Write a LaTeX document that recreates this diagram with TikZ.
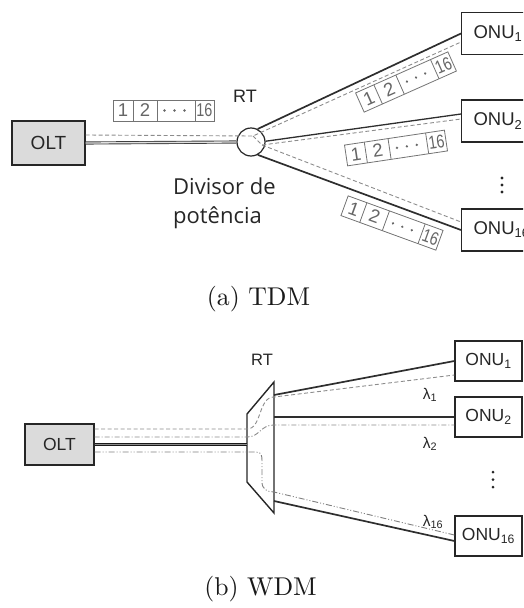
\documentclass[tikz,border=0pt]{standalone}
\usepackage{fontspec}
\newfontfamily\labelfont{Liberation Sans}
\newfontfamily\notefont{Open Sans}
\newfontfamily\capfont{lmroman10-regular}[Extension=.otf]
\usetikzlibrary{calc}

\newcommand\fs[1]{\fontsize{#1}{#1}\selectfont}

\tikzset{
  unitbox/.style={draw=black!85, line width=1.2pt, inner sep=0pt, text=black!85},
  oltbox/.style={unitbox, fill=black!14},
  onutop/.style={unitbox, anchor=west, minimum height=42pt, text width=66pt,
    align=left, inner xsep=12pt, font=\labelfont\fs{18.5}},
  onubot/.style={unitbox, minimum width=67pt, minimum height=40pt,
    font=\labelfont\fs{17.5}},
  fiber/.style={draw=black!82, line width=1.7pt},
  thinfiber/.style={draw=black!82, line width=1.3pt},
  trunkA/.style={draw=black!75, double=black!12, line width=0.9pt, double distance=1.3pt},
  trunkB/.style={draw=black!90, double=black!45, line width=1pt, double distance=0.8pt},
  sigdash/.style={draw=black!45, line width=0.9pt, dash pattern=on 4pt off 2.5pt},
  sigdot/.style={draw=black!45, line width=0.9pt, dash pattern=on 5pt off 2pt on 1pt off 2pt},
  sigdotdot/.style={draw=black!50, line width=0.9pt,
    dash pattern=on 6pt off 2pt on 1pt off 2pt on 1pt off 2pt},
  slotline/.style={draw=black!55, line width=0.8pt},
  slottext/.style={text=black!60, inner sep=0pt, font=\labelfont\fs{18.5}, transform shape},
  lam/.style={text=black!85, font=\labelfont\fs{15.5}},
  caption/.style={anchor=base, text=black!90, font=\capfont\fs{25.7}},
  tdmslots/.pic={
    \draw[slotline] (-50.5,-10.5) rectangle (50.5,10.5);
    \draw[slotline] (-30.5,-10.5) -- (-30.5,10.5)
                    (-6.5,-10.5) -- (-6.5,10.5)
                    (31.5,-10.5) -- (31.5,10.5);
    \node[slottext] (-s1) at (-40.5,0) {1};
    \node[slottext] (-s2) at (-18.5,0) {2};
    \fill[black!60] (1,0) circle (1.3) (11,0) circle (1.3) (21,0) circle (1.3);
    \node[slottext, xscale=0.78] (-s16) at (41,0) {16};
  }
}

\begin{document}
\begin{tikzpicture}[x=1pt,y=-1pt]
\useasboundingbox (0,0) rectangle (523,608);
\clip (0,0) rectangle (523,608);

% ---------------- (a) TDM ----------------
\node[oltbox, minimum width=73pt, minimum height=44pt, font=\labelfont\fs{19}]
  (a-olt) at (48.5,143) {OLT};
\node[draw=black!85, circle, minimum size=28pt, inner sep=0pt, line width=1.2pt]
  (a-rt) at (251,142) {};
\node[anchor=base, text=black!85, font=\labelfont\fs{18}] (a-rt-label) at (245,102) {RT};
\node[anchor=north west, inner sep=0pt, align=left, text=black!85,
  font=\notefont\fontsize{22}{29}\selectfont] (a-note) at (173,178) {Divisor de\\potência};

\node[onutop] (a-onu1) at (461,33.5) {ONU\textsubscript{1}};
\node[onutop] (a-onu2) at (461,121) {ONU\textsubscript{2}};
\node[onutop] (a-onu16) at (461,230) {ONU\textsubscript{16}};
\fill[black!85] (502,178) circle (1.6) (502,185) circle (1.6) (502,192) circle (1.6);

% fibres
\draw[trunkA] (a-olt.east) -- (a-rt.west);
\draw[fiber] (a-rt.63) -- (a-onu1.west);
\draw[thinfiber] (a-rt.3) -- ([yshift=7pt]a-onu2.west);
\draw[fiber] (a-rt.-62) -- (a-onu16.west);

% broadcast signal
\coordinate (a-hub) at (253,136);
\coordinate (a-hub2) at (262,145);
\draw[sigdash] ([yshift=8pt]a-olt.east) -- (a-hub) -- ([yshift=-8.5pt]a-onu1.west);
\draw[sigdash] (a-hub) -- (a-hub2) -- ([yshift=2pt]a-onu2.west);
\draw[sigdash] (a-hub2) -- ([yshift=8pt]a-onu16.west);

% time slots
\pic (a-f0) at (163.5,110.5) {tdmslots};
\pic[rotate=24] (a-f1) at (406,82) {tdmslots};
\pic[rotate=8.5] (a-f2) at (396,148) {tdmslots};
\pic[rotate=-20] (a-f16) at (392,223) {tdmslots};

\node[caption] (a-cap) at (258.5,305) {(a) TDM};

% ---------------- (b) WDM ----------------
\node[oltbox, minimum width=69pt, minimum height=41pt, font=\labelfont\fs{17.5}]
  (b-olt) at (59.5,444.5) {OLT};
\node[anchor=base, text=black!85, font=\labelfont\fs{16.5}] (b-rt-label) at (262,365) {RT};

\coordinate (b-m1) at (247,414);
\coordinate (b-m2) at (274,382);
\coordinate (b-m3) at (274,513);
\coordinate (b-m4) at (247,482);
\draw[draw=black!85, line width=1.4pt, line join=miter] (b-m1) -- (b-m2) -- (b-m3) -- (b-m4) -- cycle;

\node[onubot] (b-onu1) at (488.5,361) {ONU\textsubscript{1}};
\node[onubot] (b-onu2) at (488.5,417) {ONU\textsubscript{2}};
\node[onubot] (b-onu16) at (488.5,536) {ONU\textsubscript{16}};
\fill[black!85] (493,472) circle (1.5) (493,479.5) circle (1.5) (493,487) circle (1.5);

% fibres
\coordinate (b-in) at (247,444.5);
\coordinate (b-out1) at (274,395);
\coordinate (b-out2) at (274,417);
\coordinate (b-out16) at (274,501);
\draw[trunkB] (b-olt.east) -- (b-in);
\draw[fiber] (b-out1) -- (b-onu1.west);
\draw[fiber] (b-out2) -- (b-onu2.west);
\draw[fiber] (b-out16) -- ([yshift=-5pt]b-onu16.west);

% wavelength channels
\draw[sigdash] ([yshift=15.5pt]b-olt.east) -- (247,429)
  .. controls (262,429) and (258,397) .. (274,397) -- ([yshift=-14pt]b-onu1.west);
\draw[sigdot] ([yshift=7.5pt]b-olt.east) -- (247,437)
  .. controls (260,437) and (260,425) .. (274,425) -- ([yshift=-8pt]b-onu2.west);
\draw[sigdotdot] ([yshift=-7.5pt]b-olt.east) -- (256,452)
  .. controls (262,452) and (262,456) .. (262,462) -- (262,482)
  .. controls (262,489) and (267,492) .. (274,492) -- ([yshift=1pt]b-onu16.west);

\node[lam] (b-l1) at (430,395) {λ\textsubscript{1}};
\node[lam] (b-l2) at (430,444) {λ\textsubscript{2}};
\node[lam] (b-l16) at (433,522) {λ\textsubscript{16}};

\node[caption] (b-cap) at (260.5,595) {(b) WDM};
\end{tikzpicture}
\end{document}
